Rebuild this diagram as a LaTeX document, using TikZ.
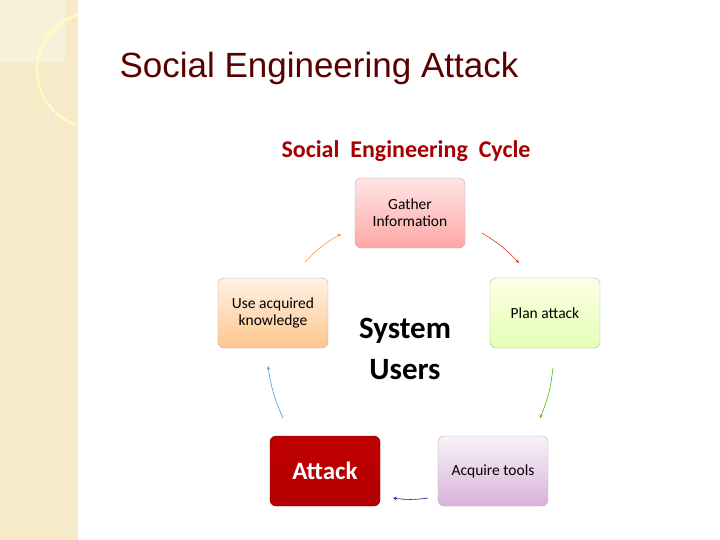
\documentclass[tikz,border=0pt]{standalone}
\usepackage{fontspec}
\setmainfont{Liberation Sans}
\newfontfamily\calfont{Carlito}
\begin{document}
\begin{tikzpicture}[x=1pt,y=-1pt,
  box/.style={draw=gray!60,rounded corners=6pt,minimum width=110pt,minimum height=70pt,align=center,font=\calfont\fontsize{15.5}{17}\selectfont},
  arr/.style={-stealth,line width=0.6pt}]
\useasboundingbox (0,0) rectangle (720,540);
\fill[white] (0,0) rectangle (720,540);
\fill[orange!18!yellow!12!white!85!brown] (0,0) rectangle (78,540);
\fill[white,opacity=0.3] (0,0) rectangle (65,62);
\draw[white!60!yellow!60,line width=2.5pt] (95,70) circle (58);
\draw[brown!20,line width=0.6pt] (85,130) circle (45);
\draw[brown!20,line width=0.6pt] (85,130) circle (35);
\fill[white] (78,0) rectangle (160,540);
\node[text=red!35!black,font=\fontsize{35}{38}\selectfont,anchor=west] (t) at (116,68) {Social Engineering Attack};
\node[text=red!65!black,font=\calfont\bfseries\fontsize{24}{26}\selectfont] (st) at (406,151) {Social\ \ Engineering\ \ Cycle};
\node[box,top color=red!10,bottom color=red!35] (g) at (410,213) {Gather\\Information};
\node[box,top color=green!5!yellow!10,bottom color=green!35!yellow!30] (p) at (545,313) {Plan attack};
\node[box,top color=orange!10,bottom color=orange!45] (u) at (273,313) {Use acquired\\knowledge};
\node[box,draw=red!40!black,top color=red!75!black,bottom color=red!70!black,text=white,font=\calfont\bfseries\fontsize{25}{26}\selectfont] (a) at (325,471) {Attack};
\node[box,top color=violet!5,bottom color=violet!30] (q) at (493,471) {Acquire tools};
\node[align=center,font=\calfont\bfseries\fontsize{31}{41}\selectfont] (s) at (405,349) {System\\Users};
\coordinate (g1) at (482,233); \coordinate (p0) at (519,263);
\coordinate (p1) at (553,368); \coordinate (q0) at (540,418);
\coordinate (q1) at (428,498); \coordinate (a0) at (393,498);
\coordinate (a1) at (283,418); \coordinate (u0) at (268,366);
\coordinate (u1) at (305,262); \coordinate (g0) at (341,234);
\draw[arr,red!60!brown] (g1) to[bend left=8] (p0);
\draw[arr,green!50!olive] (p1) to[bend left=8] (q0);
\draw[arr,blue!40!violet] (q1) to[bend left=8] (a0);
\draw[arr,cyan!60!blue!70] (a1) to[bend left=8] (u0);
\draw[arr,orange!80] (u1) to[bend left=8] (g0);
\end{tikzpicture}
\end{document}
